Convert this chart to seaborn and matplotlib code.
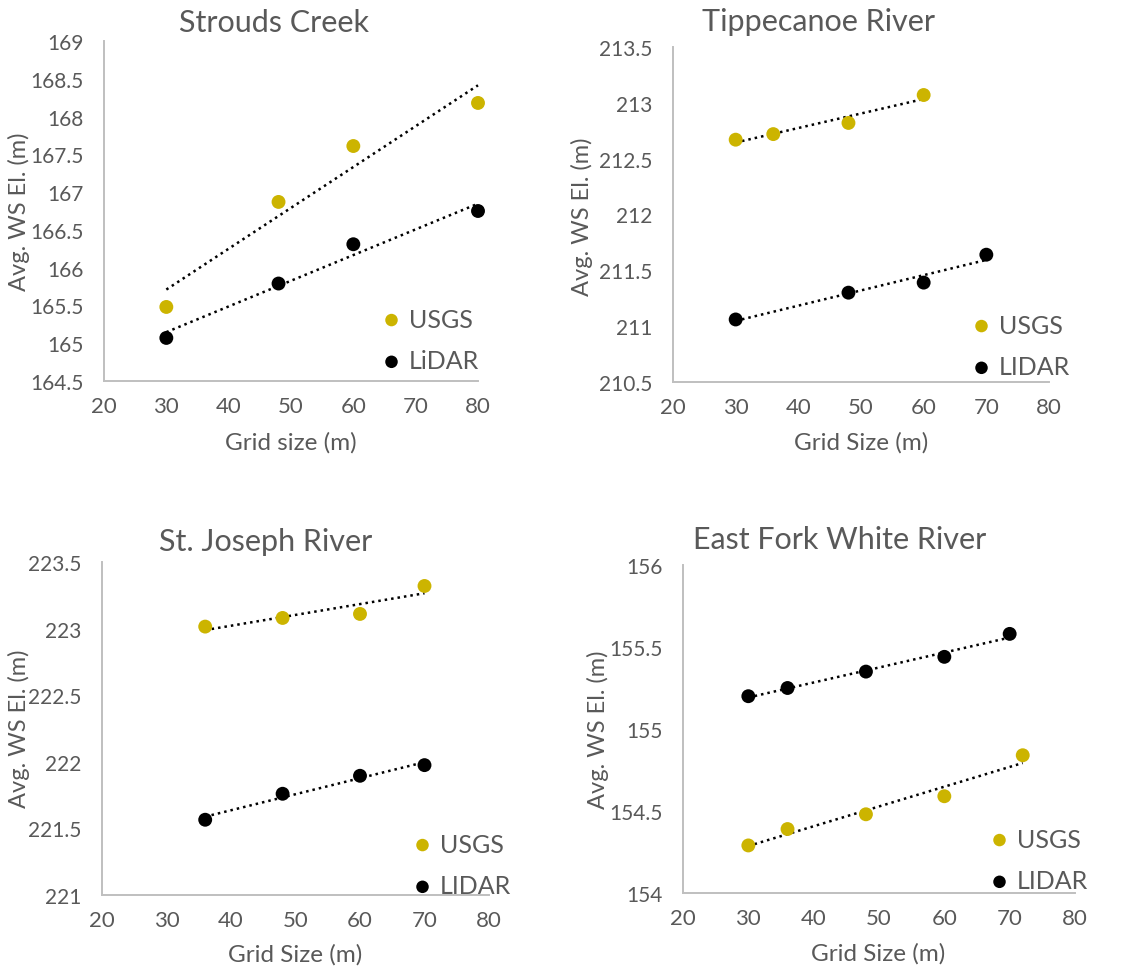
import numpy as np
import pandas as pd
import matplotlib
matplotlib.use('Agg')
import matplotlib.pyplot as plt
import seaborn as sns
from matplotlib.ticker import FuncFormatter, MultipleLocator

sns.set_style('white')
plt.rcParams['font.family'] = ['Lato', 'DejaVu Sans']

GOLD = '#CCB400'
GRAY = '#595959'
W, H = 1141, 970

# Strouds Creek
sc_usgs_x = [30, 48, 60, 80]
sc_usgs_y = [165.48, 166.87, 167.61, 168.18]
sc_lidar_x = [30, 48, 60, 80]
sc_lidar_y = [165.07, 165.79, 166.31, 166.75]

# Tippecanoe River
tr_usgs_x = [30, 36, 48, 60]
tr_usgs_y = [212.67, 212.72, 212.82, 213.07]
tr_lidar_x = [30, 48, 60, 70]
tr_lidar_y = [211.06, 211.30, 211.39, 211.64]

# St. Joseph River
sj_usgs_x = [36, 48, 60, 70]
sj_usgs_y = [223.015, 223.08, 223.11, 223.32]
sj_lidar_x = [36, 48, 60, 70]
sj_lidar_y = [221.565, 221.76, 221.895, 221.975]

# East Fork White River
ef_usgs_x = [30, 36, 48, 60, 72]
ef_usgs_y = [154.29, 154.39, 154.48, 154.59, 154.84]
ef_lidar_x = [30, 36, 48, 60, 70]
ef_lidar_y = [155.20, 155.25, 155.35, 155.44, 155.58]

# layout in pixels: axes box (left, top, right, bottom), title, xlabel, ylabel centres, legend
panels = [
    dict(title='Strouds Creek', xlabel='Grid size (m)', lidar_name='LiDAR',
         usgs=(sc_usgs_x, sc_usgs_y), lidar=(sc_lidar_x, sc_lidar_y), ylim=(164.5, 169),
         box=(104, 42, 478, 382), t=(274, 23), xl=(291, 443), yl=(19, 212), leg=(391, 341)),
    dict(title='Tippecanoe River', xlabel='Grid Size (m)', lidar_name='LIDAR',
         usgs=(tr_usgs_x, tr_usgs_y), lidar=(tr_lidar_x, tr_lidar_y), ylim=(210.5, 213.5),
         box=(673, 48, 1049, 383), t=(818, 22), xl=(861, 443), yl=(582, 217), leg=(981, 347)),
    dict(title='St. Joseph River', xlabel='Grid Size (m)', lidar_name='LIDAR',
         usgs=(sj_usgs_x, sj_usgs_y), lidar=(sj_lidar_x, sj_lidar_y), ylim=(221, 223.5),
         box=(102, 563, 489, 896), t=(266, 542), xl=(295, 955), yl=(19, 729), leg=(422, 866)),
    dict(title='East Fork White River', xlabel='Grid Size (m)', lidar_name='LIDAR',
         usgs=(ef_usgs_x, ef_usgs_y), lidar=(ef_lidar_x, ef_lidar_y), ylim=(154, 156),
         box=(683, 566, 1075, 894), t=(840, 540), xl=(878, 954), yl=(598, 730), leg=(999, 861)),
]


def fx(px):
    return px / W


def fy(py):
    return 1 - py / H


fig = plt.figure(figsize=(W / 100, H / 100), dpi=100)

for p in panels:
    l, t, r, b = p['box']
    ax = fig.add_axes([fx(l), fy(b), (r - l) / W, (b - t) / H])
    for name, (x, y), color in [('USGS', p['usgs'], GOLD), (p['lidar_name'], p['lidar'], 'black')]:
        sns.regplot(x=x, y=y, ax=ax, ci=None, truncate=True, label=name,
                    scatter_kws=dict(s=100, color=color, alpha=1, edgecolors='none',
                                     zorder=3, clip_on=False),
                    line_kws=dict(color='black', linestyle=(0, (1, 1.6)), linewidth=1.8,
                                  zorder=2, clip_on=False))
    ax.set_xlim(20, 80)
    ax.set_ylim(*p['ylim'])
    ax.xaxis.set_major_locator(MultipleLocator(10))
    ax.yaxis.set_major_locator(MultipleLocator(0.5))
    ax.yaxis.set_major_formatter(FuncFormatter(lambda v, pos: '%g' % v))
    ax.tick_params(axis='y', length=0, labelsize=15, labelcolor=GRAY, pad=15)
    ax.tick_params(axis='x', length=0, labelsize=16, labelcolor=GRAY, pad=11)
    for s in ['top', 'right']:
        ax.spines[s].set_visible(False)
    for s in ['left', 'bottom']:
        ax.spines[s].set_color('#BFBFBF')
        ax.spines[s].set_linewidth(1.4)
    fig.text(fx(p['t'][0]), fy(p['t'][1]), p['title'], fontsize=22, color=GRAY,
             ha='center', va='center')
    fig.text(fx(p['xl'][0]), fy(p['xl'][1]), p['xlabel'], fontsize=17.5, color=GRAY,
             ha='center', va='center')
    fig.text(fx(p['yl'][0]), fy(p['yl'][1]), 'Avg. WS El. (m)', fontsize=17, color=GRAY,
             ha='center', va='center', rotation=90)
    handles, labels = ax.get_legend_handles_labels()
    sc = [h for h in handles if isinstance(h, matplotlib.collections.PathCollection)]
    ax.legend(sc, [h.get_label() for h in sc], loc='center left',
              bbox_to_anchor=(fx(p['leg'][0] - 12), fy(p['leg'][1])),
              bbox_transform=fig.transFigure, frameon=False,
              fontsize=18, labelcolor=GRAY, handlelength=1.0, handletextpad=0.2,
              labelspacing=0.75, markerscale=0.9, borderpad=0, borderaxespad=0)

fig.savefig('out.png', dpi=100)
